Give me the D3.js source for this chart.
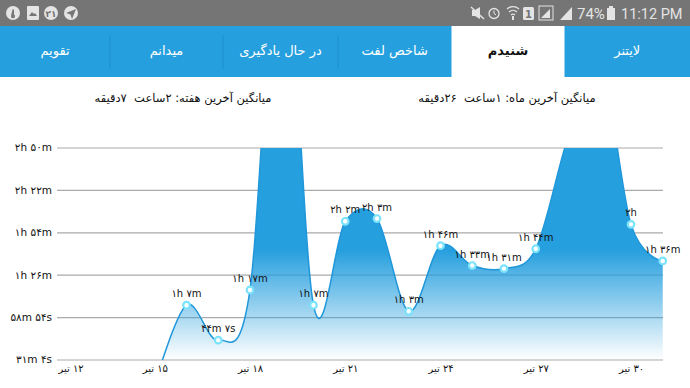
<!DOCTYPE html>
<html>
<head>
<meta charset="utf-8">
<style>
  html, body { margin: 0; padding: 0; background: #fff; overflow: hidden; }
  svg { display: block; }
  text { font-family: "DejaVu Sans", sans-serif; }
</style>
<script src="https://cdn.jsdelivr.net/npm/d3@7"></script>
</head>
<body>
<svg width="690" height="388"></svg>
<script>
// Data (minutes per day). 15, 19, 28, 29 are outside the visible range, estimated
const days = [15, 16, 17, 18, 19, 20, 21, 22, 23, 24, 25, 26, 27, 28, 29, 30, 31];
const minutes = [15, 67, 44.1, 77, 330, 67, 122, 123.8, 63, 106, 93, 91, 104, 176, 230, 120, 96];
const pointLabels = ['', '۱h ۷m', '۴۴m ۷s', '۱h ۱۷m', '', '۱h ۷m', '۲h ۲m', '۲h ۳m', '۱h ۳m', '۱h ۴۶m', '۱h ۳۳m', '۱h ۳۱m', '۱h ۴۴m', '', '', '۲h', '۱h ۳۶m'];

const yTicks = [31.07, 58.87, 86.67, 114.47, 142.27, 170.07];
const yTickLabels = ['۳۱m ۴s', '۵۸m ۵۴s', '۱h ۲۶m', '۱h ۵۴m', '۲h ۲۲m', '۲h ۵۰m'];
const xTicks = [12, 15, 18, 21, 24, 27, 30];
const xTickLabels = ['۱۲ تیر', '۱۵ تیر', '۱۸ تیر', '۲۱ تیر', '۲۴ تیر', '۲۷ تیر', '۳۰ تیر'];

const tabs = ['لایتنر', 'شنیدم', 'شاخص لفت', 'در حال یادگیری', 'میدانم', 'تقویم'];
const tabEdges = [690, 564.5, 451.5, 338, 223, 110, 0];
const activeTab = 1;
const avgTitles = ['میانگین آخرین هفته: ۲ساعت\u00a0\u00a0۷دقیقه', 'میانگین آخرین ماه: ۱ساعت\u00a0\u00a0۲۶دقیقه'];

const svg = d3.select('svg');
const blue = '#269fde';

// Status bar
svg.append('rect').attr('width', 690).attr('height', 26).attr('fill', '#757575');
const bar = svg.append('g').attr('fill', '#e4e4e4');
[13, 51, 71].forEach(x => {
    bar.append('circle').attr('cx', x).attr('cy', 13).attr('r', 7);
});
bar.append('rect').attr('x', 27).attr('y', 6).attr('width', 12).attr('height', 14).attr('rx', 1);
bar.append('path').attr('d', 'M29 16l3-4 2 2 1-1 2 3z').attr('fill', '#757575');
bar.append('path').attr('d', 'M11 16a2 2 0 1 0 3 -1.500v-5l-1.500 0z').attr('fill', '#757575');
bar.append('text').attr('x', 51).attr('y', 16.500).attr('text-anchor', 'middle')
    .attr('font-size', 9).attr('font-weight', 'bold').attr('fill', '#757575').text('۲۱');
bar.append('path').attr('d', 'M66 13l10-4-4 10-1.500-4.500z').attr('fill', '#757575');

bar.append('path').attr('d', 'M472 10h3l5-3v12l-5-3h-3z');
bar.append('path').attr('d', 'M471 7l13 12').attr('stroke', '#e4e4e4').attr('stroke-width', 1.500);
bar.append('circle').attr('cx', 494).attr('cy', 13.500).attr('r', 5).attr('fill', 'none')
    .attr('stroke', '#e4e4e4').attr('stroke-width', 1.300);
bar.append('path').attr('d', 'M494 10.500v3l2 1.500').attr('fill', 'none').attr('stroke', '#e4e4e4');
bar.append('path').attr('d', 'M507 9a9 9 0 0 1 12 0M509 12a6 6 0 0 1 8 0M511 15a3 3 0 0 1 4 0')
    .attr('fill', 'none').attr('stroke', '#e4e4e4').attr('stroke-width', 1.200);
bar.append('rect').attr('x', 512).attr('y', 16).attr('width', 2).attr('height', 4);
bar.append('rect').attr('x', 523).attr('y', 7).attr('width', 11).attr('height', 13).attr('rx', 1.500);
bar.append('text').attr('x', 528.500).attr('y', 17.500).attr('text-anchor', 'middle')
    .attr('font-size', 10).attr('font-weight', 'bold').attr('fill', '#757575').text('1');
bar.append('rect').attr('x', 539).attr('y', 6).attr('width', 14).attr('height', 14)
    .attr('fill', 'none').attr('stroke', '#e4e4e4');
bar.append('path').attr('d', 'M541 18h9v-9z');
bar.append('path').attr('d', 'M560 20h12v-13z');
bar.append('text').attr('x', 577).attr('y', 19).attr('font-size', 15)
    .style('font-family', 'Roboto').text('74%');
bar.append('rect').attr('x', 607).attr('y', 8).attr('width', 8).attr('height', 12);
bar.append('rect').attr('x', 609).attr('y', 6).attr('width', 4).attr('height', 2);
bar.append('text').attr('x', 621).attr('y', 19).attr('font-size', 14.500)
    .style('font-family', 'Roboto').text('11:12 PM');

// Tabs
svg.append('rect').attr('y', 26).attr('width', 690).attr('height', 51).attr('fill', blue);
tabs.forEach((t, i) => {
    const x0 = tabEdges[i + 1], x1 = tabEdges[i];
    if (i === activeTab) {
        svg.append('rect').attr('x', x0).attr('y', 26).attr('width', x1 - x0).attr('height', 52).attr('fill', '#fff');
    } else if (i !== 0 && i !== activeTab + 1) {
        svg.append('line').attr('x1', x1).attr('x2', x1).attr('y1', 35).attr('y2', 69)
            .attr('stroke', '#1f8fcb').attr('stroke-width', 1);
    }
    svg.append('text')
        .attr('x', (x0 + x1) / 2)
        .attr('y', 55)
        .attr('direction', 'rtl')
        .attr('text-anchor', 'middle')
        .attr('font-size', 13)
        .attr('font-weight', i === activeTab ? 'bold' : 'normal')
        .attr('fill', i === activeTab ? '#111' : '#fff')
        .text(t);
});

// Averages above the chart
svg.selectAll('text.avg')
    .data(avgTitles)
    .enter().append('text')
    .attr('class', 'avg')
    .attr('x', (d, i) => i === 0 ? 183 : 507)
    .attr('y', 102)
    .attr('direction', 'rtl')
    .attr('text-anchor', 'middle')
    .attr('font-size', 11.500)
    .attr('fill', '#111')
    .text(d => d);

// Scales
const x = d3.scaleLinear().domain([18, 30]).range([250, 631]);
const y = d3.scaleLinear().domain([yTicks[0], yTicks[5]]).range([360, 148]);
const plotLeft = 57, plotRight = 663;

// Grid and axes
const yAxis = d3.axisLeft(y)
    .tickValues(yTicks)
    .tickSize(-(plotRight - plotLeft))
    .tickPadding(5)
    .offset(0)
    .tickFormat((d, i) => yTickLabels[i]);
const yg = svg.append('g').attr('transform', `translate(${plotLeft},0)`).call(yAxis);
yg.select('.domain').remove();
yg.selectAll('line').attr('stroke', '#aaa').attr('stroke-width', 1.200);
yg.selectAll('text').style('font-family', '"DejaVu Sans"').attr('font-size', 10.500).attr('fill', '#111');

const xAxis = d3.axisBottom(x)
    .tickValues(xTicks)
    .tickSize(0)
    .tickPadding(5)
    .tickFormat((d, i) => xTickLabels[i]);
const xg = svg.append('g').attr('transform', 'translate(0,360)').call(xAxis);
xg.select('.domain').remove();
xg.selectAll('text')
    .style('font-family', '"DejaVu Sans"')
    .attr('direction', 'rtl')
    .attr('font-size', 10)
    .attr('fill', '#111');
xg.selectAll('.tick').filter(d => d === 12).select('text').attr('x', 11);

// Gradient and clip for the area
const defs = svg.append('defs');
const grad = defs.append('linearGradient').attr('id', 'fade').attr('gradientUnits', 'userSpaceOnUse')
    .attr('x1', 0).attr('x2', 0).attr('y1', 250).attr('y2', 360);
grad.append('stop').attr('offset', 0).attr('stop-color', blue).attr('stop-opacity', 1);
grad.append('stop').attr('offset', 1).attr('stop-color', blue).attr('stop-opacity', 0);
defs.append('clipPath').attr('id', 'plot').append('rect')
    .attr('x', plotLeft).attr('y', 148).attr('width', plotRight - plotLeft).attr('height', 212);

const series = days.map((d, i) => ({ day: d, value: minutes[i], label: pointLabels[i] }));
const curve = d3.curveCatmullRom.alpha(0);

const area = d3.area().x(d => x(d.day)).y0(360).y1(d => y(d.value)).curve(curve);
const line = d3.line().x(d => x(d.day)).y(d => y(d.value)).curve(curve);

const plot = svg.append('g').attr('clip-path', 'url(#plot)');
plot.append('path').datum(series).attr('d', area).attr('fill', 'url(#fade)');
plot.append('path').datum(series).attr('d', line)
    .attr('fill', 'none').attr('stroke', '#1f97da').attr('stroke-width', 1.500);

// Points and their labels
const shown = series.filter(d => d.label !== '');
svg.append('g').selectAll('circle')
    .data(shown)
    .enter().append('circle')
    .attr('cx', d => x(d.day))
    .attr('cy', d => y(d.value))
    .attr('r', 3.300)
    .attr('fill', '#fff')
    .attr('stroke', '#7be3fb')
    .attr('stroke-width', 2.200);

svg.append('g').selectAll('text')
    .data(shown)
    .enter().append('text')
    .attr('x', d => x(d.day))
    .attr('y', d => y(d.value) - 8)
    .attr('text-anchor', 'middle')
    .attr('font-size', 10)
    .attr('fill', '#111')
    .text(d => d.label);
</script>
</body>
</html>
